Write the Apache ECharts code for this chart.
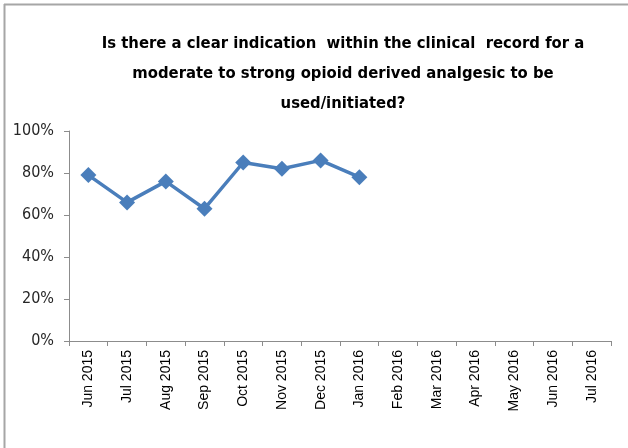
<!DOCTYPE html>
<html>
<head>
<meta charset="utf-8">
<script src="https://cdn.jsdelivr.net/npm/echarts@6/dist/echarts.min.js"></script>
<style>
  html, body { margin: 0; padding: 0; background: #fff; }
  #chart { width: 628px; height: 448px; }
</style>
</head>
<body>
<div id="chart"></div>
<script>
// months on the x axis
var months = ['Jun 2015', 'Jul 2015', 'Aug 2015', 'Sep 2015', 'Oct 2015', 'Nov 2015', 'Dec 2015',
    'Jan 2016', 'Feb 2016', 'Mar 2016', 'Apr 2016', 'May 2016', 'Jun 2016', 'Jul 2016'];
// percent answering yes (only first 8 months have data)
var yesPct = [79, 66, 76, 63, 85, 82, 86, 78, null, null, null, null, null, null];
var yTicks = [0, 20, 40, 60, 80, 100];

var titleText = 'Is there a clear indication  within the clinical  record for a\n' +
    'moderate to strong opioid derived analgesic to be\n' +
    'used/initiated?';

var narrowFont = "'Liberation Sans Narrow', 'DejaVu Sans Condensed', Roboto, sans-serif";

var myChart = echarts.init(document.getElementById('chart'));

var option = {
    animation: false,
    backgroundColor: '#fff',
    title: {
        text: titleText,
        left: 338,
        top: 24,
        textAlign: 'center',
        textStyle: {
            fontFamily: narrowFont,
            fontWeight: 'bold',
            fontSize: 16.5,
            lineHeight: 30,
            color: '#000'
        }
    },
    // chart frame, grey on top and left like the source
    graphic: [
        { type: 'line', shape: { x1: 4, y1: 4.5, x2: 628, y2: 4.5 }, style: { stroke: '#a6a6a6', lineWidth: 2 } },
        { type: 'line', shape: { x1: 4.5, y1: 4, x2: 4.5, y2: 448 }, style: { stroke: '#a6a6a6', lineWidth: 2 } }
    ],
    grid: {
        left: 69,
        right: 17,
        top: 131,
        bottom: 107
    },
    xAxis: {
        type: 'category',
        data: months,
        boundaryGap: true,
        axisLine: { lineStyle: { color: '#8c8c8c', width: 1 } },
        axisTick: { show: true, length: 5, alignWithLabel: false, lineStyle: { color: '#8c8c8c' } },
        axisLabel: {
            rotate: 90,
            margin: 9,
            interval: 0,
            fontFamily: 'Liberation Sans',
            fontSize: 14,
            color: '#000'
        }
    },
    yAxis: {
        type: 'value',
        min: 0,
        max: 100,
        interval: 20,
        splitLine: { show: false },
        axisLine: { show: true, lineStyle: { color: '#8c8c8c', width: 1 } },
        axisTick: { show: true, length: 5, lineStyle: { color: '#8c8c8c' } },
        axisLabel: {
            margin: 15,
            fontFamily: narrowFont,
            fontSize: 16,
            color: '#262626',
            formatter: function (v) { return yTicks.indexOf(v) >= 0 ? v + '%' : ''; }
        }
    },
    series: [{
        type: 'line',
        data: yesPct,
        symbol: 'diamond',
        symbolSize: 16,
        connectNulls: false,
        lineStyle: { color: '#4a7ebb', width: 3.5 },
        itemStyle: { color: '#4a7ebb' }
    }]
};

myChart.setOption(option);
</script>
</body>
</html>
